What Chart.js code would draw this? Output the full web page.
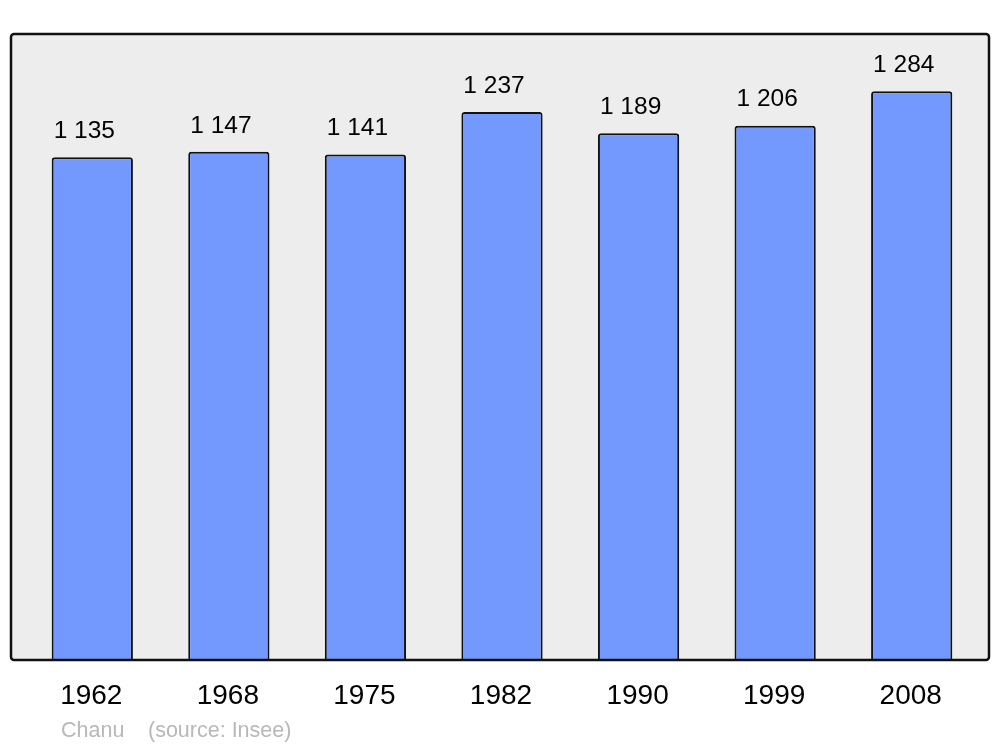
<!DOCTYPE html>
<html>
<head>
<meta charset="utf-8">
<script src="https://cdn.jsdelivr.net/npm/chart.js@4"></script>
<style>
html,body{margin:0;padding:0;background:#fff;}
#wrap{width:1000px;height:747px;position:relative;}
</style>
</head>
<body>
<div id="wrap"><canvas id="c" width="1000" height="747"></canvas></div>
<script>
const years = ['1962','1968','1975','1982','1990','1999','2008'];
const population = [1135, 1147, 1141, 1237, 1189, 1206, 1284];
const valueLabels = ['1 135','1 147','1 141','1 237','1 189','1 206','1 284'];
const footerAuthor = 'Chanu';
const footerSource = '(source: Insee)';

const FONT = '"Liberation Sans", Arial, sans-serif';

const boxPlugin = {
  id: 'box',
  beforeDraw(chart) {
    const ctx = chart.ctx;
    const a = chart.chartArea;
    ctx.save();
    const x = 11, y = a.top, w = 978, h = a.bottom - a.top;
    ctx.beginPath();
    if (ctx.roundRect) ctx.roundRect(x, y, w, h, 3); else ctx.rect(x, y, w, h);
    ctx.fillStyle = '#ededed';
    ctx.fill();
    ctx.restore();
  },
  afterDatasetsDraw(chart) {
    const ctx = chart.ctx;
    const a = chart.chartArea;
    ctx.save();
    ctx.beginPath();
    const x = 11, y = a.top, w = 978, h = a.bottom - a.top;
    if (ctx.roundRect) ctx.roundRect(x, y, w, h, 3); else ctx.rect(x, y, w, h);
    ctx.lineWidth = 2.5;
    ctx.strokeStyle = '#111';
    ctx.stroke();

    const meta = chart.getDatasetMeta(0);
    const xs = chart.scales.x;
    ctx.fillStyle = '#000';
    ctx.textBaseline = 'middle';
    meta.data.forEach((bar, i) => {
      ctx.font = '24.5px ' + FONT;
      ctx.textAlign = 'left';
      ctx.fillText(valueLabels[i], bar.x - bar.width / 2 + 2, bar.y - 26);
      ctx.font = '28px ' + FONT;
      ctx.textAlign = 'center';
      ctx.fillText(years[i], xs.getPixelForValue(i) - 1, 696);
    });
    ctx.font = '21.5px ' + FONT;
    ctx.fillStyle = '#b8b8b8';
    ctx.textAlign = 'left';
    ctx.fillText(footerAuthor, 61, 731);
    ctx.fillText(footerSource, 148, 731);
    ctx.restore();
  }
};

new Chart(document.getElementById('c'), {
  type: 'bar',
  data: {
    labels: years,
    datasets: [{
      data: population,
      backgroundColor: '#7399ff',
      borderColor: '#111',
      borderWidth: 2,
      borderSkipped: 'bottom',
      borderRadius: {topLeft: 3, topRight: 3, bottomLeft: 0, bottomRight: 0},
      categoryPercentage: 1,
      barPercentage: 0.595
    }]
  },
  options: {
    responsive: false,
    animation: false,
    devicePixelRatio: 1,
    layout: {padding: {left: 24, right: 20, top: 34, bottom: 87}},
    plugins: {legend: {display: false}, tooltip: {enabled: false}},
    scales: {
      x: {display: false},
      y: {display: false, min: 0, max: 1413}
    }
  },
  plugins: [boxPlugin]
});
</script>
</body>
</html>
